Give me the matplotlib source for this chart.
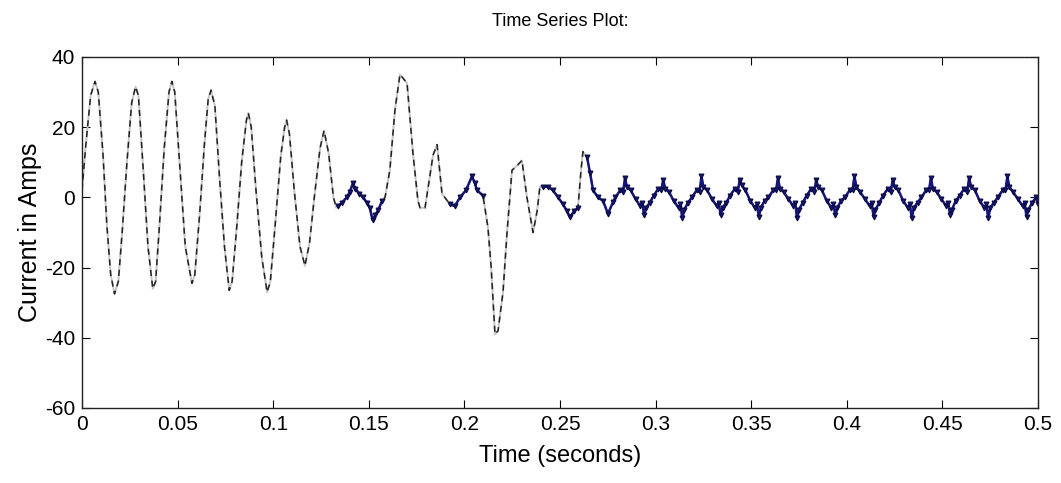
import numpy as np
import matplotlib.pyplot as plt

# current trace (time in s, current in A)
time = [
    0.0000, 0.0020, 0.0045, 0.0068, 0.0085, 0.0110, 0.0130, 0.0150, 0.0170, 0.0190,
    0.0210, 0.0235, 0.0260, 0.0280, 0.0295, 0.0320, 0.0345, 0.0370, 0.0385, 0.0405,
    0.0430, 0.0455, 0.0470, 0.0485, 0.0510, 0.0540, 0.0575, 0.0590, 0.0615, 0.0640,
    0.0660, 0.0675, 0.0695, 0.0720, 0.0745, 0.0770, 0.0785, 0.0810, 0.0835, 0.0860,
    0.0870, 0.0885, 0.0910, 0.0940, 0.0968, 0.0985, 0.1010, 0.1040, 0.1060, 0.1070,
    0.1085, 0.1110, 0.1140, 0.1166, 0.1190, 0.1215, 0.1245, 0.1266, 0.1290, 0.1305,
    0.1315, 0.1330,
    # first normal stretch
    0.1340, 0.1360, 0.1385, 0.1400, 0.1417, 0.1430, 0.1450, 0.1470, 0.1490, 0.1505,
    0.1520, 0.1535, 0.1550, 0.1570,
    # second disturbance
    0.1585, 0.1610, 0.1637, 0.1663, 0.1700, 0.1731, 0.1757, 0.1768, 0.1794, 0.1836,
    0.1857, 0.1883,
    0.1925, 0.1950, 0.1977, 0.2008, 0.2040, 0.2055, 0.2066, 0.2097,
    # big dip
    0.2123, 0.2140, 0.2160, 0.2176, 0.2202, 0.2223, 0.2249, 0.2275, 0.2301, 0.2327,
    0.2359, 0.2380, 0.2395,
    0.2411, 0.2437, 0.2463, 0.2490, 0.2516, 0.2537, 0.2552, 0.2573, 0.2594,
    0.2610, 0.2620,
    # steady state
    0.2641, 0.2657, 0.2673, 0.2699, 0.2725, 0.2751, 0.2777,
    0.2790, 0.2815, 0.2830, 0.2840, 0.2850, 0.2870, 0.2895, 0.2920, 0.2930, 0.2940, 0.2950, 0.2970,
    0.2990, 0.3015, 0.3030, 0.3040, 0.3050, 0.3070, 0.3095, 0.3120, 0.3130, 0.3140, 0.3150, 0.3170,
    0.3190, 0.3215, 0.3230, 0.3240, 0.3250, 0.3270, 0.3295, 0.3320, 0.3330, 0.3340, 0.3350, 0.3370,
    0.3390, 0.3415, 0.3430, 0.3440, 0.3450, 0.3470, 0.3495, 0.3520, 0.3530, 0.3540, 0.3550, 0.3570,
    0.3590, 0.3615, 0.3630, 0.3640, 0.3650, 0.3670, 0.3695, 0.3720, 0.3730, 0.3740, 0.3750, 0.3770,
    0.3790, 0.3815, 0.3830, 0.3840, 0.3850, 0.3870, 0.3895, 0.3920, 0.3930, 0.3940, 0.3950, 0.3970,
    0.3990, 0.4015, 0.4030, 0.4040, 0.4050, 0.4070, 0.4095, 0.4120, 0.4130, 0.4140, 0.4150, 0.4170,
    0.4190, 0.4215, 0.4230, 0.4240, 0.4250, 0.4270, 0.4295, 0.4320, 0.4330, 0.4340, 0.4350, 0.4370,
    0.4390, 0.4415, 0.4430, 0.4440, 0.4450, 0.4470, 0.4495, 0.4520, 0.4530, 0.4540, 0.4550, 0.4570,
    0.4590, 0.4615, 0.4630, 0.4640, 0.4650, 0.4670, 0.4695, 0.4720, 0.4730, 0.4740, 0.4750, 0.4770,
    0.4790, 0.4815, 0.4830, 0.4840, 0.4850, 0.4870, 0.4895, 0.4920, 0.4930, 0.4940, 0.4950, 0.4970,
    0.4990, 0.5000,
]
current = [
    2.0, 15.0, 29.0, 33.0, 30.0, 12.0, -8.0, -22.0, -27.5, -24.0,
    -10.0, 10.0, 27.0, 31.5, 29.0, 8.0, -14.0, -26.0, -24.0, -8.0,
    14.0, 30.0, 33.0, 30.0, 10.0, -14.0, -24.5, -22.0, -5.0, 15.0,
    28.0, 30.5, 26.0, 5.0, -14.0, -26.5, -24.0, -8.0, 10.0, 22.0,
    24.0, 20.0, 2.0, -17.0, -27.0, -24.0, -8.0, 12.0, 20.0, 22.0,
    18.0, 2.0, -14.0, -19.5, -13.0, 0.0, 14.0, 19.0, 12.5, 5.0,
    0.0, -3.0,
    -2.5, -1.5, 0.0, 1.5, 4.0, 2.5, 1.0, 0.0, -1.5, -3.0,
    -6.5, -5.0, -3.5, -1.0,
    0.0, 7.7, 25.0, 35.0, 32.5, 12.5, -1.0, -3.0, -3.0, 12.0,
    15.0, 1.0,
    -2.0, -2.5, 0.0, 2.0, 6.0, 4.0, 2.0, 0.5,
    -8.5, -20.0, -39.0, -38.0, -27.0, -10.0, 7.7, 9.0, 10.5, 0.0,
    -10.0, -4.0, 3.0,
    3.0, 3.0, 2.0, 0.0, -2.0, -4.0, -5.7, -4.0, -3.0,
    7.7, 13.0,
    11.5, 7.0, 2.0, 0.0, -1.0, -4.7, -1.4,
    0.0, 2.0, 1.5, 5.5, 3.0, 2.0, -0.5, -2.5, -1.5, -5.0, -3.0, -1.5,
    0.5, 2.5, 2.0, 5.0, 2.5, 1.5, -1.0, -3.0, -2.0, -6.0, -3.5, -1.5,
    0.0, 2.0, 1.5, 6.0, 3.0, 2.0, -0.5, -2.5, -1.5, -5.0, -3.0, -1.5,
    0.5, 2.5, 1.5, 5.0, 3.5, 2.0, -1.0, -3.0, -2.0, -5.5, -3.0, -1.0,
    0.0, 2.0, 2.0, 5.5, 2.5, 1.5, -0.5, -2.5, -1.5, -6.0, -3.5, -1.5,
    0.5, 2.5, 1.5, 5.0, 3.0, 2.0, -1.0, -3.0, -2.0, -5.0, -3.0, -1.0,
    0.0, 2.0, 2.0, 6.0, 3.0, 1.5, -0.5, -2.5, -1.5, -5.5, -3.5, -1.5,
    0.5, 2.5, 1.5, 5.0, 3.0, 2.0, -1.0, -3.0, -2.0, -6.0, -3.0, -1.5,
    0.0, 2.0, 2.0, 5.5, 2.5, 1.5, -0.5, -2.5, -1.5, -5.0, -3.5, -1.0,
    0.5, 2.5, 1.5, 5.5, 3.0, 2.0, -1.0, -3.0, -2.0, -6.0, -3.0, -1.5,
    0.0, 2.0, 2.0, 6.0, 3.0, 1.5, -0.5, -2.5, -1.5, -5.5, -3.5, -1.5,
    0.0, -2.0,
]

# stretches drawn in blue (normal operation)
normal_spans = [(0.1335, 0.1575), (0.1920, 0.2100), (0.2405, 0.2600), (0.2635, 0.5)]

t = np.array(time)
i = np.array(current)

plt.rcParams['font.family'] = ['Liberation Sans', 'DejaVu Sans']
plt.rcParams['axes.unicode_minus'] = False

fig = plt.figure(figsize=(10.61, 4.83), dpi=100)
ax = fig.add_axes([0.0773, 0.1553, 0.901, 0.727])

# fault trace: grey line with black dashes on top
ax.plot(t, i, color='#c4c4c4', lw=1.4)
ax.plot(t, i, color='#222222', lw=1.1, dashes=(4, 3))

for a, b in normal_spans:
    m = (t >= a) & (t <= b)
    ax.plot(t[m], i[m], color='#15157e', lw=1.8, marker='v', ms=3.5, mec='#0a0a40', mew=0.8)

ax.set_xlim(0, 0.5)
ax.set_ylim(-60, 40)
ax.set_xticks(np.arange(0, 0.51, 0.05))
ax.set_xticklabels(['0', '0.05', '0.1', '0.15', '0.2', '0.25', '0.3', '0.35', '0.4', '0.45', '0.5'])
ax.set_yticks([-60, -40, -20, 0, 20, 40])
ax.tick_params(direction='in', top=True, right=True, length=6, width=0.8, labelsize=15, pad=5)
for s in ax.spines.values():
    s.set_linewidth(1.0)
    s.set_color('#222222')

ax.set_title('Time Series Plot:', fontsize=13, pad=22)
ax.set_xlabel('Time (seconds)', fontsize=17, labelpad=8)
ax.set_ylabel('Current in Amps', fontsize=18, labelpad=2)

fig.savefig('out.png', dpi=100)
